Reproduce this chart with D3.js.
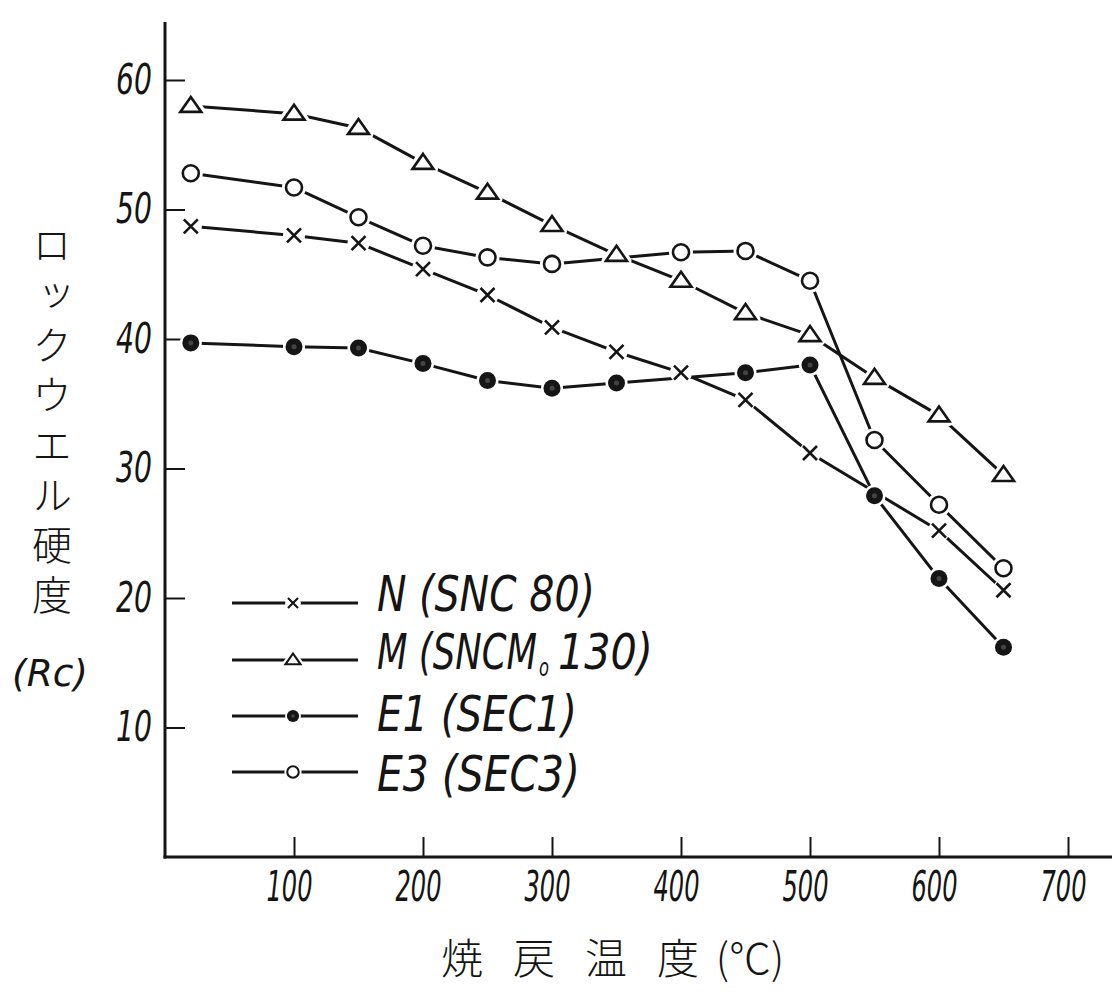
<!DOCTYPE html>
<html>
<head>
<meta charset="utf-8">
<script src="https://cdn.jsdelivr.net/npm/d3@7"></script>
<style>
  html, body { margin: 0; padding: 0; background: #fff; }
  svg { display: block; }
</style>
</head>
<body>
<svg id="chart" width="1112" height="992"></svg>
<script>
// ---------- data ----------
const temps = [20, 100, 150, 200, 250, 300, 350, 400, 450, 500, 550, 600, 650];
const seriesN  = [48.7, 48.0, 47.4, 45.4, 43.4, 40.9, 39.0, 37.4, 35.3, 31.2, null, 25.2, 20.6];
const seriesM  = [58.0, 57.4, 56.3, 53.6, 51.3, 48.8, 46.5, 44.5, 42.0, 40.3, 37.0, 34.1, 29.5];
const seriesE1 = [39.7, 39.4, 39.3, 38.1, 36.8, 36.2, 36.6, null, 37.4, 38.0, 27.9, 21.5, 16.2];
const seriesE3 = [52.8, 51.7, 49.4, 47.2, 46.3, 45.8, null, 46.7, 46.8, 44.5, 32.2, 27.2, 22.3];
const seriesNames = ["N", "M", "E1", "E3"];
const seriesMarkers = ["cross", "triangle", "filled", "open"];
const legendLabels = ["N (SNC 80)", "M (SNCM", "E1 (SEC1)", "E3 (SEC3)"];
const legendSub = ["", "o", "", ""];
const legendTail = ["", "130)", "", ""];
const xTicks = [100, 200, 300, 400, 500, 600, 700];
const yTicks = [10, 20, 30, 40, 50, 60];
const yTitle = "ロックウエル硬度";
const yUnit = "(Rc)";
const xTitleChars = ["焼", "戻", "温", "度", "(℃)"];

// ---------- scales ----------
const svg = d3.select("#chart");
const x = d3.scaleLinear().domain([0, 700]).range([165, 1068]);
const y = d3.scaleLinear().domain([0, 60]).range([857, 80]);

const numFont = "'DejaVu Sans','Liberation Sans',sans-serif";
const ink = "#151515";

function fit(sel, width, tx, ty) {
  sel.each(function () {
    const w = this.getComputedTextLength();
    const sx = w > 0 ? width / w : 1;
    d3.select(this).attr("x", 0).attr("transform", `translate(${tx},${ty}) scale(${sx},1)`);
  });
}
function numStyle(sel, size) {
  return sel.attr("fill", ink)
    .style("font-family", numFont).style("font-style", "italic")
    .style("font-size", size + "px");
}

// ---------- axes ----------
svg.append("line")
  .attr("x1", x(0)).attr("x2", x(0))
  .attr("y1", 22).attr("y2", y(0) + 1.5)
  .attr("stroke", ink).attr("stroke-width", 3);
svg.append("line")
  .attr("x1", x(0) - 1.5).attr("x2", 1112)
  .attr("y1", y(0)).attr("y2", y(0))
  .attr("stroke", ink).attr("stroke-width", 3);

const yAxis = d3.axisLeft(y).tickValues(yTicks).tickSizeInner(-20).tickSizeOuter(0).tickPadding(13);
const gy = svg.append("g").attr("transform", `translate(${x(0)},0)`).call(yAxis);
gy.select(".domain").remove();
gy.selectAll(".tick line").attr("stroke", ink).attr("stroke-width", 2);
numStyle(gy.selectAll(".tick text"), 42);
fit(gy.selectAll(".tick text"), 36, -13, 0);

const xAxis = d3.axisBottom(x).tickValues(xTicks).tickSizeInner(-20).tickSizeOuter(0).tickPadding(14);
const gx = svg.append("g").attr("transform", `translate(0,${y(0)})`).call(xAxis);
gx.select(".domain").remove();
gx.selectAll(".tick line").attr("stroke", ink).attr("stroke-width", 2);
numStyle(gx.selectAll(".tick text"), 42);
fit(gx.selectAll(".tick text"), 46, -5, 0);

// ---------- titles ----------
const cjk = "'Noto Sans CJK JP','Noto Sans CJK SC',sans-serif";
svg.append("text")
  .attr("x", 52).attr("y", 225)
  .attr("fill", ink)
  .style("writing-mode", "vertical-rl")
  .style("text-orientation", "upright")
  .style("letter-spacing", "10px")
  .style("font-family", cjk).style("font-size", "40px").style("font-weight", 300)
  .text(yTitle);
const unitT = numStyle(svg.append("text"), 38).text(yUnit);
fit(unitT, 76, 12, 686);

xTitleChars.forEach((ch, i) => {
  svg.append("text")
    .attr("x", 462 + i * 72).attr("y", 974)
    .attr("text-anchor", "middle")
    .attr("fill", ink)
    .style("font-family", cjk).style("font-size", "42px").style("font-weight", 300)
    .text(ch);
});

// ---------- series ----------
const allSeries = [seriesN, seriesM, seriesE1, seriesE3];
const gLines = svg.append("g");
const gHalo = svg.append("g");
const gMarks = svg.append("g");

allSeries.forEach((vals, si) => {
  const pts = temps.map((t, i) => [t, vals[i]]).filter(d => d[1] !== null);
  gLines.append("path")
    .attr("d", d3.line().x(d => x(d[0])).y(d => y(d[1]))(pts))
    .attr("fill", "none").attr("stroke", ink).attr("stroke-width", 3)
    .attr("stroke-linejoin", "round");
  pts.forEach(d => drawMarker(gHalo, gMarks, seriesMarkers[si], x(d[0]), y(d[1]), 1));
});

function drawMarker(haloG, markG, type, cx, cy, s) {
  const sw = 2.6 * Math.max(s, 0.8);
  if (type === "cross") {
    const r = 7 * s;
    haloG.append("circle").attr("cx", cx).attr("cy", cy).attr("r", 11 * s).attr("fill", "#fff");
    markG.append("path")
      .attr("d", `M${cx - r},${cy - r}L${cx + r},${cy + r}M${cx - r},${cy + r}L${cx + r},${cy - r}`)
      .attr("stroke", ink).attr("stroke-width", sw).attr("fill", "none");
  } else if (type === "triangle") {
    const w = 10.5 * s, h = 15 * s;
    const p = `M${cx},${cy - h * 0.6}L${cx + w},${cy + h * 0.4}L${cx - w},${cy + h * 0.4}Z`;
    haloG.append("path").attr("d", p).attr("fill", "#fff").attr("stroke", "#fff").attr("stroke-width", 9 * s).attr("stroke-linejoin", "round");
    markG.append("path").attr("d", p).attr("fill", "#fff").attr("stroke", ink).attr("stroke-width", sw);
  } else if (type === "filled") {
    haloG.append("circle").attr("cx", cx).attr("cy", cy).attr("r", 11 * s).attr("fill", "#fff");
    markG.append("circle").attr("cx", cx).attr("cy", cy).attr("r", 8.5 * s).attr("fill", ink);
    markG.append("circle").attr("cx", cx).attr("cy", cy).attr("r", 2.5 * s).attr("fill", "#444");
  } else {
    haloG.append("circle").attr("cx", cx).attr("cy", cy).attr("r", 12 * s).attr("fill", "#fff");
    markG.append("circle").attr("cx", cx).attr("cy", cy).attr("r", 8 * s)
      .attr("fill", "#fff").attr("stroke", ink).attr("stroke-width", sw);
  }
}

// ---------- legend ----------
const legendRows = [603, 660, 716, 772];
const legendBase = [611, 669, 731, 791];
const legendWidths = [218, 160, 200, 203];
const gLeg = svg.append("g");
const gLegHalo = svg.append("g");
const gLegMark = svg.append("g");
seriesNames.forEach((nm, i) => {
  const ly = legendRows[i];
  gLeg.append("line").attr("x1", 232).attr("x2", 358).attr("y1", ly).attr("y2", ly)
    .attr("stroke", ink).attr("stroke-width", 3);
  drawMarker(gLegHalo, gLegMark, seriesMarkers[i], 293, ly, 0.72);
  fit(numStyle(svg.append("text"), 50).text(legendLabels[i]), legendWidths[i], 377, legendBase[i]);
  if (legendSub[i]) {
    fit(numStyle(svg.append("text"), 24).text(legendSub[i]), 10, 539, legendBase[i] + 7);
    fit(numStyle(svg.append("text"), 50).text(legendTail[i]), 95, 558, legendBase[i]);
  }
});
</script>
</body>
</html>
